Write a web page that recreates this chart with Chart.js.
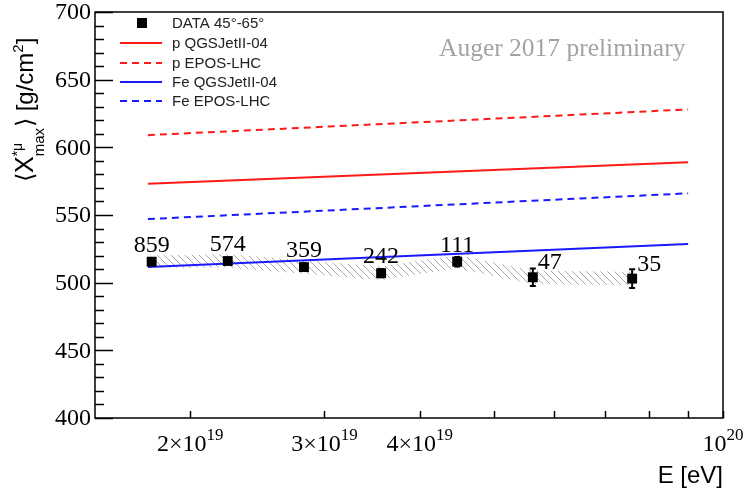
<!DOCTYPE html>
<html>
<head>
<meta charset="utf-8">
<script src="https://cdn.jsdelivr.net/npm/chart.js@4.4.1/dist/chart.umd.min.js"></script>
<style>
  html, body { margin: 0; padding: 0; background: #fff; }
  canvas { display: block; }
</style>
</head>
<body>
<canvas id="c" width="746" height="491"></canvas>
<script>
// measured points (energy in eV, <Xmax*mu> in g/cm2)
const energies = [1.78e19, 2.24e19, 2.82e19, 3.56e19, 4.48e19, 5.63e19, 7.6e19];
const xmaxData = [515.5, 516, 511.5, 507, 515.5, 504, 503];
const statErr = [2, 2, 2.5, 3, 3.5, 6.5, 7];
const sysUpper = [520, 521, 516.5, 512, 520.5, 509, 508];
const sysLower = [511, 511, 506.5, 502, 510.5, 499, 498];
const eventCounts = ['859', '574', '359', '242', '111', '47', '35'];

// model predictions
const modelE = [1.76e19, 9e19];
const pQGSJet = [573, 589];
const pEPOS = [609, 628];
const feQGSJet = [511.5, 528.5];
const feEPOS = [547, 566];

// axes
const yMajorTicks = [400, 450, 500, 550, 600, 650, 700];
const xTickValues = [2e19, 3e19, 4e19, 5e19, 6e19, 7e19, 8e19, 9e19, 1e20];
const xLabelValues = [2e19, 3e19, 4e19, 1e20];
const xLabelBase = ['2\u00d710', '3\u00d710', '4\u00d710', '10'];
const xLabelExp = ['19', '19', '19', '20'];

function pts(xs, ys) {
    return xs.map((x, i) => ({x: x, y: ys[i]}));
}

function hatch() {
    var c = document.createElement('canvas');
    c.width = 7; c.height = 7;
    var g = c.getContext('2d');
    g.strokeStyle = '#a8a8a8';
    g.lineWidth = 1;
    g.beginPath();
    g.moveTo(0, 0); g.lineTo(7, 7);
    g.moveTo(-1, 6); g.lineTo(1, 8);
    g.moveTo(6, -1); g.lineTo(8, 1);
    g.stroke();
    return g.createPattern(c, 'repeat');
}

const serif = '"Liberation Serif", "Times New Roman", serif';
const sans = '"Liberation Sans", Arial, sans-serif';

const overlay = {
    id: 'overlay',
    afterDatasetsDraw(chart) {
        var ctx = chart.ctx;
        var xs = chart.scales.x, ys = chart.scales.y;
        ctx.save();
        // error bars
        ctx.strokeStyle = '#000';
        ctx.lineWidth = 2;
        energies.forEach(function (e, i) {
            var px = xs.getPixelForValue(e);
            var y1 = ys.getPixelForValue(xmaxData[i] + statErr[i]);
            var y2 = ys.getPixelForValue(xmaxData[i] - statErr[i]);
            ctx.beginPath();
            ctx.moveTo(px, y1); ctx.lineTo(px, y2);
            ctx.moveTo(px - 3, y1); ctx.lineTo(px + 3, y1);
            ctx.moveTo(px - 3, y2); ctx.lineTo(px + 3, y2);
            ctx.stroke();
        });
        // event counts
        ctx.fillStyle = '#000';
        ctx.font = '24px ' + serif;
        ctx.textBaseline = 'alphabetic';
        energies.forEach(function (e, i) {
            var px = xs.getPixelForValue(e);
            var py = ys.getPixelForValue(xmaxData[i]);
            if (i < 5) {
                ctx.textAlign = 'center';
                ctx.fillText(eventCounts[i], px, py - 10);
            } else {
                ctx.textAlign = 'left';
                ctx.fillText(eventCounts[i], px + 5, py - 8);
            }
        });
        ctx.restore();
    },
    afterDraw(chart) {
        var ctx = chart.ctx;
        var xs = chart.scales.x, ys = chart.scales.y;
        var a = chart.chartArea;
        ctx.save();
        // frame
        ctx.strokeStyle = '#000';
        ctx.lineWidth = 1.5;
        ctx.strokeRect(a.left, a.top, a.right - a.left, a.bottom - a.top);
        // y ticks
        ctx.lineWidth = 1.5;
        ctx.beginPath();
        for (var v = 400; v <= 700; v += 10) {
            var py = Math.round(ys.getPixelForValue(v)) + 0.5;
            var len = (v % 50 === 0) ? 18 : 9;
            ctx.moveTo(a.left, py); ctx.lineTo(a.left + len, py);
        }
        // x ticks
        xTickValues.forEach(function (t) {
            var px = Math.round(xs.getPixelForValue(t)) + 0.5;
            ctx.moveTo(px, a.bottom); ctx.lineTo(px, a.bottom - 7);
        });
        ctx.stroke();

        // y tick labels
        ctx.fillStyle = '#000';
        ctx.font = '24px ' + serif;
        ctx.textAlign = 'right';
        ctx.textBaseline = 'middle';
        yMajorTicks.forEach(function (t) {
            ctx.fillText(String(t), a.left - 4, ys.getPixelForValue(t) + 1);
        });

        // x tick labels with exponent
        ctx.textBaseline = 'alphabetic';
        ctx.textAlign = 'left';
        xLabelValues.forEach(function (t, i) {
            var px = xs.getPixelForValue(t);
            ctx.font = '24px ' + serif;
            var wb = ctx.measureText(xLabelBase[i]).width;
            ctx.font = '17px ' + serif;
            var we = ctx.measureText(xLabelExp[i]).width;
            var x0 = px - (wb + we) / 2;
            ctx.font = '24px ' + serif;
            ctx.fillText(xLabelBase[i], x0, 451);
            ctx.font = '17px ' + serif;
            ctx.fillText(xLabelExp[i], x0 + wb, 440);
        });

        // x title
        ctx.font = '24px ' + sans;
        ctx.textAlign = 'right';
        ctx.fillText('E [eV]', a.right, 483);

        // y title (rotated)
        ctx.save();
        ctx.translate(33, 182);
        ctx.rotate(-Math.PI / 2);
        ctx.textAlign = 'left';
        var u = 0;
        function put(txt, font, dv) {
            ctx.font = font;
            ctx.fillText(txt, u, dv);
            var w = ctx.measureText(txt).width;
            return w;
        }
        u += put('\u27e8', '24px ' + sans, 0);
        u += put('X', '25px ' + sans, 0);
        var uSup = u;
        put('*\u03bc', '14px ' + sans, -11);
        ctx.font = '15px ' + sans;
        var wMax = ctx.measureText('max').width;
        put('max', '15px ' + sans, 11);
        u = uSup + wMax + 1;
        u += put('\u27e9 [g/cm', '24px ' + sans, 0);
        u += put('2', '15px ' + sans, -10);
        put(']', '24px ' + sans, 0);
        ctx.restore();

        // preliminary label
        ctx.font = '25.5px ' + serif;
        ctx.fillStyle = '#a3a3a3';
        ctx.textAlign = 'left';
        ctx.fillText('Auger 2017 preliminary', 439, 56);

        // legend
        var rows = [23, 43, 63, 82, 101];
        var order = [0, 3, 4, 5, 6];
        ctx.font = '15px ' + sans;
        ctx.textBaseline = 'middle';
        order.forEach(function (di, r) {
            var ds = chart.data.datasets[di];
            var ry = rows[r];
            if (di === 0) {
                ctx.fillStyle = '#000';
                ctx.fillRect(137, ry - 5, 10, 10);
            } else {
                ctx.strokeStyle = ds.borderColor;
                ctx.lineWidth = 2;
                ctx.setLineDash(ds.borderDash || []);
                ctx.beginPath();
                ctx.moveTo(120, ry); ctx.lineTo(162, ry);
                ctx.stroke();
                ctx.setLineDash([]);
            }
            ctx.fillStyle = '#222';
            ctx.fillText(ds.label, 172, ry + 1);
        });
        ctx.restore();
    }
};

const ctx = document.getElementById('c').getContext('2d');
const chart = new Chart(ctx, {
    type: 'scatter',
    data: {
        datasets: [{
            label: 'DATA 45\u00b0-65\u00b0',
            data: pts(energies, xmaxData),
            pointStyle: 'rect',
            pointRadius: 7,
            backgroundColor: '#000',
            borderColor: '#000',
            borderWidth: 0,
            order: 0
        }, {
            label: 'sys upper',
            data: pts(energies, sysUpper),
            showLine: true,
            pointRadius: 0,
            borderWidth: 0,
            borderColor: 'rgba(0,0,0,0)',
            backgroundColor: hatch(),
            fill: '+1',
            order: 3
        }, {
            label: 'sys lower',
            data: pts(energies, sysLower),
            showLine: true,
            pointRadius: 0,
            borderWidth: 0,
            borderColor: 'rgba(0,0,0,0)',
            fill: false,
            order: 3
        }, {
            label: 'p QGSJetII-04',
            data: pts(modelE, pQGSJet),
            showLine: true,
            pointRadius: 0,
            borderColor: '#ff1a1a',
            borderWidth: 2,
            order: 1
        }, {
            label: 'p EPOS-LHC',
            data: pts(modelE, pEPOS),
            showLine: true,
            pointRadius: 0,
            borderColor: '#ff1a1a',
            borderWidth: 2,
            borderDash: [7, 5],
            order: 1
        }, {
            label: 'Fe QGSJetII-04',
            data: pts(modelE, feQGSJet),
            showLine: true,
            pointRadius: 0,
            borderColor: '#1a1aff',
            borderWidth: 2,
            order: 1
        }, {
            label: 'Fe EPOS-LHC',
            data: pts(modelE, feEPOS),
            showLine: true,
            pointRadius: 0,
            borderColor: '#1a1aff',
            borderWidth: 2,
            borderDash: [7, 5],
            order: 1
        }]
    },
    options: {
        responsive: false,
        animation: false,
        layout: { padding: { left: 95, right: 23, top: 12, bottom: 73 } },
        plugins: {
            legend: { display: false },
            tooltip: { enabled: false }
        },
        scales: {
            x: { type: 'logarithmic', min: 1.5e19, max: 1e20, display: false },
            y: { type: 'linear', min: 400, max: 700, display: false }
        }
    },
    plugins: [overlay]
});
</script>
</body>
</html>
